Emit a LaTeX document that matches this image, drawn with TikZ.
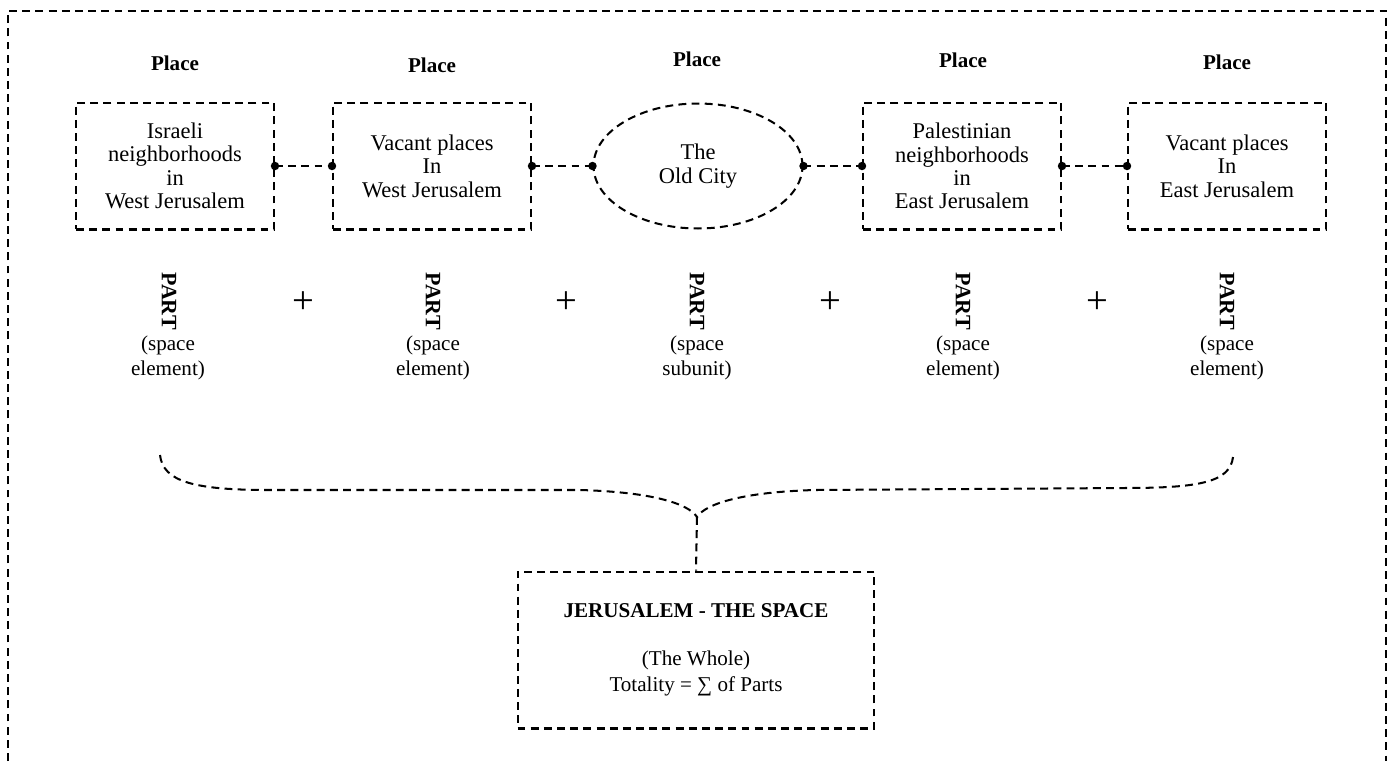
\documentclass[tikz,border=0pt]{standalone}
\usepackage{fontspec}
\setmainfont{Liberation Serif}
\usetikzlibrary{shapes.geometric}

\tikzset{
  dsh/.style={dash pattern=on 4.5pt off 3pt, line width=1.15pt},
  place/.style={draw, dsh, minimum width=3.96cm, minimum height=2.54cm, align=center, font=\fontsize{12.8}{13.3}\selectfont},
  title/.style={font=\bfseries\fontsize{12}{12}\selectfont},
  part/.style={font=\bfseries\fontsize{12.5}{12}\selectfont, rotate=-90},
  kind/.style={align=center, font=\fontsize{12}{14}\selectfont},
  plus/.style={font=\fontsize{22}{22}\selectfont},
  dot/.style={circle, fill, inner sep=0pt, minimum size=4.8pt},
  link/.style={dsh}
}

\begin{document}
\begin{tikzpicture}[x=0.02cm, y=-0.02cm]
            \useasboundingbox (0,0) rectangle (1395,761);

            % frame, open at the bottom
            \draw[dsh] (8,761) -- (8,11) -- (1386,11) -- (1386,761);

            \node[place] (A) at (175,166) {Israeli\\neighborhoods\\in\\West Jerusalem}; %West
            \node[place] (B) at (432,166) {Vacant places\\In\\West Jerusalem};
            \node[draw, dsh, ellipse, minimum width=4.18cm, minimum height=2.5cm, inner sep=0pt, align=center, font=\fontsize{12.8}{13.3}\selectfont] (C) at (698,166) {The\\Old City}; %center
            \node[place] (D) at (962,166) {Palestinian\\neighborhoods\\in\\East Jerusalem};
            \node[place] (E) at (1227,166) {Vacant places\\In\\East Jerusalem}; %East

            \node[title] (tA) at (175,63) {Place};
            \node[title] (tB) at (432,65) {Place};
            \node[title] (tC) at (697,59) {Place};
            \node[title] (tD) at (963,60) {Place};
            \node[title] (tE) at (1227,62) {Place};

            \draw[link] (A.east) node[dot] {} -- (B.west) node[dot] {};
            \draw[link] (B.east) node[dot] {} -- (C.west) node[dot] {};
            \draw[link] (C.east) node[dot] {} -- (D.west) node[dot] {};
            \draw[link] (D.east) node[dot] {} -- (E.west) node[dot] {};

            % parts
            \node[part] (pA) at (169,301) {PART};
            \node[part] (pB) at (433,301) {PART};
            \node[part] (pC) at (697,301) {PART};
            \node[part] (pD) at (963,301) {PART};
            \node[part] (pE) at (1227,301) {PART};

            \node[kind] (kA) at (168,358) {(space\\element)};
            \node[kind] (kB) at (433,358) {(space\\element)};
            \node[kind] (kC) at (697,358) {(space\\subunit)};
            \node[kind] (kD) at (963,358) {(space\\element)};
            \node[kind] (kE) at (1227,358) {(space\\element)};

            \node[plus] (s1) at (303,303) {+};
            \node[plus] (s2) at (566,303) {+};
            \node[plus] (s3) at (830,303) {+};
            \node[plus] (s4) at (1097,303) {+};

            % the whole
            \node[draw, dsh, minimum width=7.14cm, minimum height=3.14cm, align=center, font=\fontsize{12}{15}\selectfont] (W) at (696,650)
                {\textbf{JERUSALEM - THE SPACE}\\[12pt](The Whole)\\Totality = ∑ of Parts};

            \coordinate (L) at (160,455);
            \coordinate (R) at (1233,457);
            \coordinate (tip) at (697,517);

            \draw[dsh] (L) .. controls (163,482) and (195,490) .. (270,490) -- (580,490) .. controls (650,492) and (688,503) .. (tip);
            \draw[dsh] (R) .. controls (1230,482) and (1200,488) .. (1125,488) -- (815,490) .. controls (745,492) and (706,503) .. (tip);
            \draw[dsh] (tip) -- (W.north);

        \end{tikzpicture}
\end{document}
